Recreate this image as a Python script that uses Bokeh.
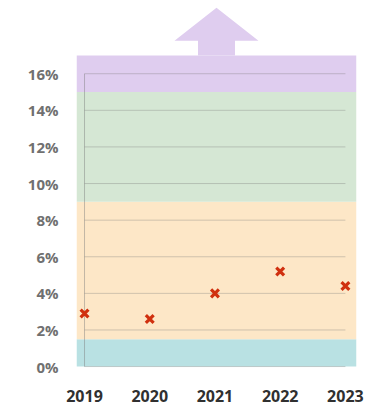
from bokeh.plotting import figure
from bokeh.models import Range1d, FixedTicker, NumeralTickFormatter
from bokeh.embed import file_html
from bokeh.resources import INLINE

# data
years = [2019, 2020, 2021, 2022, 2023]
values = [2.9, 2.6, 4.0, 5.2, 4.4]
y_ticks = [0, 2, 4, 6, 8, 10, 12, 14, 16]
y_tick_labels = {t: f"{t}%" for t in y_ticks}
band_bottoms = [0, 1.5, 9, 15]
band_tops = [1.5, 9, 15, 17]
band_colors = ["#b9e1e3", "#fde7c7", "#d5e7d4", "#dfcdef"]

x0, x1 = 2018.877, 2023.17
p = figure(width=371, height=409, output_backend="svg", toolbar_location=None,
           x_range=Range1d(x0, x1), y_range=Range1d(-0.05, 20.0),
           min_border_left=76, min_border_right=15, min_border_top=0, min_border_bottom=42)
p.outline_line_color = None
p.background_fill_color = "white"
p.xgrid.visible = False
p.ygrid.visible = False

# bands
p.quad(left=[x0] * 4, right=[x1] * 4, bottom=band_bottoms, top=band_tops,
       fill_color=band_colors, line_color=None)

# arrow above the top band
cx = (x0 + x1) / 2
top = band_tops[-1]
hw, sw = 0.644, 0.284
p.patch(x=[cx - sw, cx - sw, cx - hw, cx, cx + hw, cx + sw, cx + sw],
        y=[top, top + 0.8, top + 0.8, top + 2.6, top + 0.8, top + 0.8, top],
        fill_color=band_colors[-1], line_color=None)

# grid lines across the data range
p.segment(x0=[years[0]] * len(y_ticks), x1=[years[-1]] * len(y_ticks),
          y0=y_ticks, y1=y_ticks, line_color="#7a7a7a", line_alpha=0.35, line_width=1)
p.segment(x0=[years[0]], x1=[years[0]], y0=[0], y1=[y_ticks[-1]],
          line_color="#7a7a7a", line_alpha=0.45, line_width=1)

# markers
p.scatter(x=years, y=values, marker="x", size=11, line_width=3.2, line_color="#d0300f")

# axes
p.yaxis.ticker = FixedTicker(ticks=y_ticks)
p.yaxis.major_label_overrides = y_tick_labels
p.yaxis.axis_line_color = None
p.yaxis.major_tick_line_color = None
p.yaxis.minor_tick_line_color = None
p.yaxis.major_tick_out = 0
p.yaxis.major_label_standoff = 18
p.yaxis.major_label_text_font = "Open Sans"
p.yaxis.major_label_text_font_size = "15px"
p.yaxis.major_label_text_font_style = "bold"
p.yaxis.major_label_text_color = "#707070"

p.xaxis.ticker = FixedTicker(ticks=years)
p.xaxis.formatter = NumeralTickFormatter(format="0")
p.xaxis.axis_line_color = None
p.xaxis.major_tick_line_color = None
p.xaxis.minor_tick_line_color = None
p.xaxis.major_tick_out = 0
p.xaxis.major_label_standoff = 22
p.xaxis.major_label_text_font = "Open Sans"
p.xaxis.major_label_text_font_size = "16px"
p.xaxis.major_label_text_font_style = "bold"
p.xaxis.major_label_text_color = "#303030"

open("out.html", "w").write(file_html(p, INLINE))
